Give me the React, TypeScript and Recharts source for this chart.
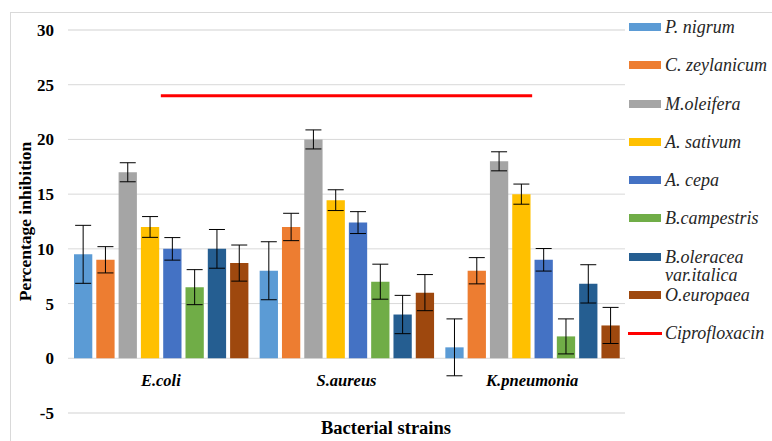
import {
  ComposedChart,
  Bar,
  Line,
  XAxis,
  YAxis,
  CartesianGrid,
  ErrorBar,
  Legend,
} from 'recharts';

const strains = ['E.coli', 'S.aureus', 'K.pneumonia'];

const extracts = [
  'P. nigrum',
  'C. zeylanicum',
  'M.oleifera',
  'A. sativum',
  'A. cepa',
  'B.campestris',
  'B.oleracea\nvar.italica',
  'O.europaea',
];

const COLORS = ['#5B9BD5', '#ED7D31', '#A5A5A5', '#FFC000', '#4472C4', '#70AD47', '#255E91', '#9E480E'];

// mean values per strain (E.coli, S.aureus, K.pneumonia)
const pNigrum = [9.5, 8, 1];
const cZeylanicum = [9, 12, 8];
const mOleifera = [17, 20, 18];
const aSativum = [12, 14.45, 15];
const aCepa = [10, 12.4, 9];
const bCampestris = [6.5, 7, 2];
const bOleracea = [10, 4, 6.8];
const oEuropaea = [8.7, 6, 3];

// error bar half-lengths
const pNigrumErr = [2.65, 2.65, 2.6];
const cZeylanicumErr = [1.2, 1.25, 1.2];
const mOleiferaErr = [0.87, 0.87, 0.87];
const aSativumErr = [0.95, 0.95, 0.92];
const aCepaErr = [1.03, 1.0, 1.03];
const bCampestrisErr = [1.6, 1.6, 1.6];
const bOleraceaErr = [1.77, 1.75, 1.75];
const oEuropaeaErr = [1.65, 1.65, 1.65];

const ciprofloxacin = [24, 24, 24];

const yTicks = [-5, 0, 5, 10, 15, 20, 25, 30];
const minorTicks = [-5, -4, -3, -2, -1, 0, 1, 2, 3, 4, 5, 6, 7, 8, 9, 10, 11, 12, 13, 14, 15, 16, 17, 18, 19, 20, 21, 22, 23, 24, 25, 26, 27, 28, 29, 30];

const seriesValues = [pNigrum, cZeylanicum, mOleifera, aSativum, aCepa, bCampestris, bOleracea, oEuropaea];
const seriesErrors = [pNigrumErr, cZeylanicumErr, mOleiferaErr, aSativumErr, aCepaErr, bCampestrisErr, bOleraceaErr, oEuropaeaErr];

const data = strains.map((strain, i) => {
  const row: Record<string, number | string> = { strain, cipro: ciprofloxacin[i] };
  seriesValues.forEach((vals, k) => {
    row[`v${k}`] = vals[i];
    row[`e${k}`] = seriesErrors[k][i];
  });
  return row;
});

const FONT = '"Liberation Serif", "Times New Roman", serif';

const StrainTick = ({ x, payload }: any) => (
  <text
    x={x}
    y={386}
    textAnchor="middle"
    fontFamily={FONT}
    fontSize={16.5}
    fontWeight="bold"
    fontStyle="italic"
    fill="#000"
  >
    {payload.value}
  </text>
);

const LegendBox = () => {
  const items = extracts
    .map((name, i) => ({ name, color: COLORS[i], line: false }))
    .concat([{ name: 'Ciprofloxacin', color: '#ff0000', line: true }]);
  return (
    <div style={{ fontFamily: FONT, fontStyle: 'italic', fontSize: 18, color: '#262626' }}>
      {items.map((it) => (
        <div key={it.name} style={{ height: 38.3, display: 'flex', alignItems: 'flex-start' }}>
          <div style={{ width: 34, height: 18, display: 'flex', alignItems: 'center' }}>
            <div
              style={{
                width: it.line ? 34 : 32,
                marginLeft: it.line ? -1 : 0,
                height: it.line ? 3 : 8,
                background: it.color,
              }}
            />
          </div>
          <div style={{ marginLeft: 2, lineHeight: '18px', whiteSpace: 'pre' }}>{it.name}</div>
        </div>
      ))}
    </div>
  );
};

export default function App() {
  return (
    <div style={{ position: 'absolute', left: 0, top: 0, width: 772, height: 441, overflow: 'hidden', background: '#fff' }}>
      <div
        style={{
          position: 'absolute',
          left: 10,
          top: 12,
          width: 800,
          height: 500,
          border: '1px solid #d9d9d9',
        }}
      />
      <div style={{ position: 'absolute', left: 0, top: 0 }}>
        <ComposedChart
          width={772}
          height={441}
          data={data}
          margin={{ top: 30, right: 147, left: 0, bottom: 0 }}
          barSize={18.3}
          barGap={4}
        >
          <CartesianGrid vertical={false} yAxisId="minor" stroke="#efefef" />
          <CartesianGrid vertical={false} stroke="#d9d9d9" />
          <XAxis
            dataKey="strain"
            height={28}
            axisLine={false}
            tickLine={false}
            tick={<StrainTick />}
            interval={0}
          />
          <YAxis
            yAxisId="minor"
            width={0}
            domain={[-5, 30]}
            ticks={minorTicks}
            interval={0}
            axisLine={false}
            tickLine={false}
            tick={false}
          />
          <YAxis
            width={68}
            domain={[-5, 30]}
            ticks={yTicks}
            interval={0}
            axisLine={false}
            tickLine={false}
            tickSize={0}
            tickMargin={14}
            tick={{ fontFamily: FONT, fontSize: 17, fontWeight: 'bold', fill: '#000' }}
            label={{
              value: 'Percentage inhibition',
              angle: -90,
              position: 'insideLeft',
              offset: 25,
              style: { textAnchor: 'middle', fontFamily: FONT, fontSize: 17.5, fontWeight: 'bold', fill: '#000' },
            }}
          />
          {extracts.map((name, k) => (
            <Bar key={name} dataKey={`v${k}`} name={name} fill={COLORS[k]} isAnimationActive={false}>
              <ErrorBar dataKey={`e${k}`} width={8} stroke="#000" strokeWidth={1} direction="y" isAnimationActive={false} />
            </Bar>
          ))}
          <Line
            dataKey="cipro"
            name="Ciprofloxacin"
            stroke="#ff0000"
            strokeWidth={3}
            dot={false}
            activeDot={false}
            isAnimationActive={false}
          />
          <Legend
            layout="horizontal"
            align="center"
            verticalAlign="middle"
            content={<LegendBox />}
            wrapperStyle={{ left: 629, top: 18, width: 143, height: 360 }}
          />
        </ComposedChart>
      </div>
      <div
        style={{
          position: 'absolute',
          left: 0,
          width: 772,
          top: 418,
          textAlign: 'center',
          fontFamily: FONT,
          fontWeight: 'bold',
          fontSize: 18.5,
          color: '#000',
        }}
      >
        Bacterial strains
      </div>
    </div>
  );
}
